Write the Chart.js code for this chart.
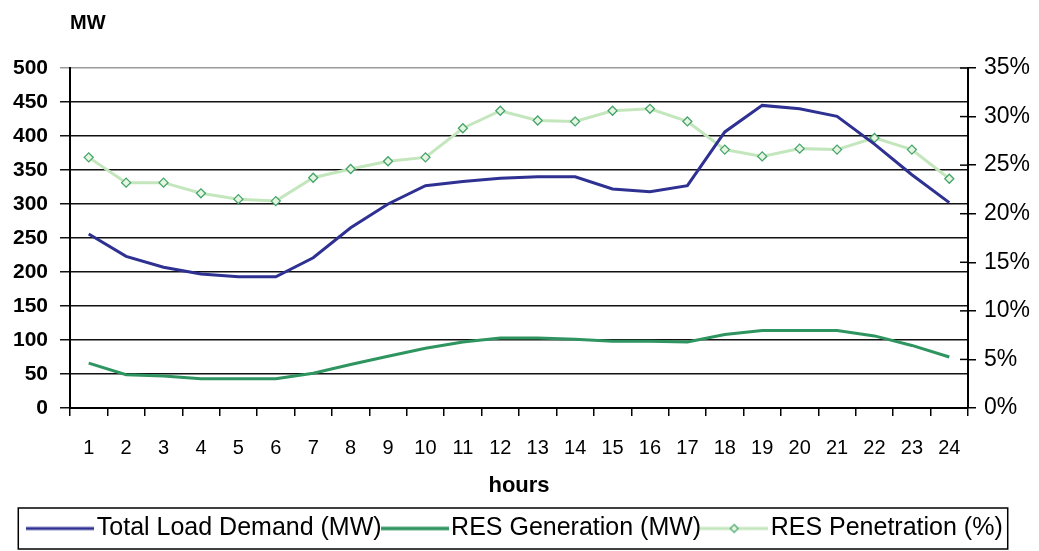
<!DOCTYPE html>
<html>
<head>
<meta charset="utf-8">
<script src="https://cdn.jsdelivr.net/npm/chart.js@4.4.1/dist/chart.umd.min.js"></script>
<style>
  html, body { margin: 0; padding: 0; background: #fff; }
  #wrap { width: 1039px; height: 551px; }
</style>
</head>
<body>
<div id="wrap"><canvas id="myChart" width="1039" height="551"></canvas></div>
<script>
var hours = ['1','2','3','4','5','6','7','8','9','10','11','12','13','14','15','16','17','18','19','20','21','22','23','24'];
var loadDemand = [256, 223, 207, 197, 193, 193, 221, 265, 300, 327, 333, 338, 340, 340, 322, 318, 327, 406, 445, 440, 429, 388, 343, 302];
var resGeneration = [66, 49, 47, 43, 43, 43, 51, 64, 76, 88, 97, 103, 103, 101, 98, 98, 97, 108, 114, 114, 114, 106, 92, 75];
var resPenetration = [25.8, 23.2, 23.2, 22.1, 21.5, 21.3, 23.7, 24.6, 25.4, 25.8, 28.8, 30.6, 29.6, 29.5, 30.6, 30.8, 29.5, 26.6, 25.9, 26.7, 26.6, 27.8, 26.6, 23.6];
var seriesNames = ['Total Load Demand (MW)', 'RES Generation (MW)', 'RES Penetration (%)'];

var blue = '#2e3192';
var green = '#2f9560';
var lightGreen = '#c4e6bd';
var markerGreen = '#45a46a';

// little pictures for the legend: line sample (+ diamond for the % series)
function legendSample(color, width, diamond) {
  var c = document.createElement('canvas');
  c.width = 68; c.height = 12;
  var g = c.getContext('2d');
  g.strokeStyle = color;
  g.lineWidth = width;
  g.beginPath(); g.moveTo(0, 6); g.lineTo(68, 6); g.stroke();
  if (diamond) {
    g.fillStyle = '#e6f5e2';
    g.strokeStyle = markerGreen;
    g.lineWidth = 1.2;
    g.beginPath();
    g.moveTo(34, 2); g.lineTo(38, 6); g.lineTo(34, 10); g.lineTo(30, 6); g.closePath();
    g.fill(); g.stroke();
  }
  return c;
}
var samples = [legendSample(blue, 3, false), legendSample(green, 3.5, false), legendSample(lightGreen, 3, true)];

var extras = {
  id: 'extras',
  afterDraw: function(chart) {
    var ctx = chart.ctx;
    var area = chart.chartArea;
    ctx.save();
    // unit label on top of left axis
    ctx.fillStyle = '#000';
    ctx.font = 'bold 20px "Liberation Sans", Arial, sans-serif';
    ctx.textBaseline = 'middle';
    ctx.fillText('MW', 70, 23);
    // inner half of the right axis ticks
    var y1 = chart.scales.y1;
    ctx.strokeStyle = '#000';
    ctx.lineWidth = 1.5;
    y1.ticks.forEach(function(t) {
      var py = y1.getPixelForValue(t.value);
      ctx.beginPath(); ctx.moveTo(area.right - 8, py); ctx.lineTo(area.right, py); ctx.stroke();
    });
    // box round the legend
    var boxes = chart.legend.legendHitBoxes;
    if (boxes && boxes.length) {
      var l = boxes[0].left - 18;
      var r = boxes[boxes.length - 1].left + boxes[boxes.length - 1].width + 5;
      var top = chart.legend.top + 1;
      var bottom = chart.legend.bottom - 2;
      ctx.lineWidth = 1.5;
      ctx.strokeRect(l, top, r - l, bottom - top);
    }
    ctx.restore();
  }
};

var data = {
  labels: hours,
  datasets: [
    {
      label: seriesNames[0],
      data: loadDemand,
      yAxisID: 'y',
      borderColor: blue,
      backgroundColor: blue,
      borderWidth: 3,
      pointRadius: 0,
      tension: 0
    },
    {
      label: seriesNames[1],
      data: resGeneration,
      yAxisID: 'y',
      borderColor: green,
      backgroundColor: green,
      borderWidth: 3,
      pointRadius: 0,
      tension: 0
    },
    {
      label: seriesNames[2],
      data: resPenetration,
      yAxisID: 'y1',
      borderColor: lightGreen,
      backgroundColor: '#e6f5e2',
      borderWidth: 3,
      pointStyle: 'rectRot',
      pointRadius: 4.5,
      pointBorderColor: markerGreen,
      pointBackgroundColor: '#e6f5e2',
      pointBorderWidth: 1.3,
      tension: 0
    }
  ]
};

var options = {
  responsive: false,
  animation: false,
  layout: { padding: { top: 68, left: 0, right: 0, bottom: 0 } },
  plugins: {
    tooltip: { enabled: false },
    legend: {
      position: 'bottom',
      labels: {
        color: '#000',
        font: { family: '"Liberation Sans Narrow", "Arial Narrow", "Liberation Sans", Arial, sans-serif', size: 25 },
        usePointStyle: true,
        pointStyleWidth: 48,
        padding: 9,
        generateLabels: function(chart) {
          var items = Chart.defaults.plugins.legend.labels.generateLabels(chart);
          items.forEach(function(it, i) { it.pointStyle = samples[i]; });
          return items;
        }
      }
    }
  },
  scales: {
    x: {
      offset: true,
      afterFit: function(s) { s.height = 99; },
      grid: { offset: true, drawOnChartArea: false, color: '#000', lineWidth: 1.5, tickLength: 8 },
      border: { color: '#000', width: 2 },
      ticks: { color: '#000', padding: 20, maxRotation: 0, autoSkip: false,
        font: { family: '"Liberation Sans", Arial, sans-serif', size: 20 } },
      title: { display: true, text: 'hours', color: '#000', padding: { top: 0, bottom: 8 },
        font: { family: '"Liberation Sans", Arial, sans-serif', size: 22, weight: 'bold' } }
    },
    y: {
      position: 'left',
      min: 0, max: 500,
      afterFit: function(s) { s.width = 70; },
      grid: {
        color: function(c) { return c.tick && c.tick.value === 500 ? '#9a9a9a' : '#111'; },
        lineWidth: 1.5, tickLength: 10
      },
      border: { color: '#000', width: 2 },
      ticks: { stepSize: 50, color: '#000', padding: 12,
        font: { family: '"Liberation Sans", Arial, sans-serif', size: 21, weight: 'bold' } }
    },
    y1: {
      position: 'right',
      min: 0, max: 35,
      afterFit: function(s) { s.width = 71; },
      grid: { drawOnChartArea: false, color: '#000', lineWidth: 1.5, tickLength: 8 },
      border: { color: '#000', width: 2 },
      ticks: { stepSize: 5, color: '#000', padding: 8,
        callback: function(v) { return v + '%'; },
        font: { family: '"Liberation Sans", Arial, sans-serif', size: 23 } }
    }
  }
};

var ctx = document.getElementById('myChart');
var myChart = new Chart(ctx, {
  type: 'line',
  data: data,
  options: options,
  plugins: [extras]
});
</script>
</body>
</html>
